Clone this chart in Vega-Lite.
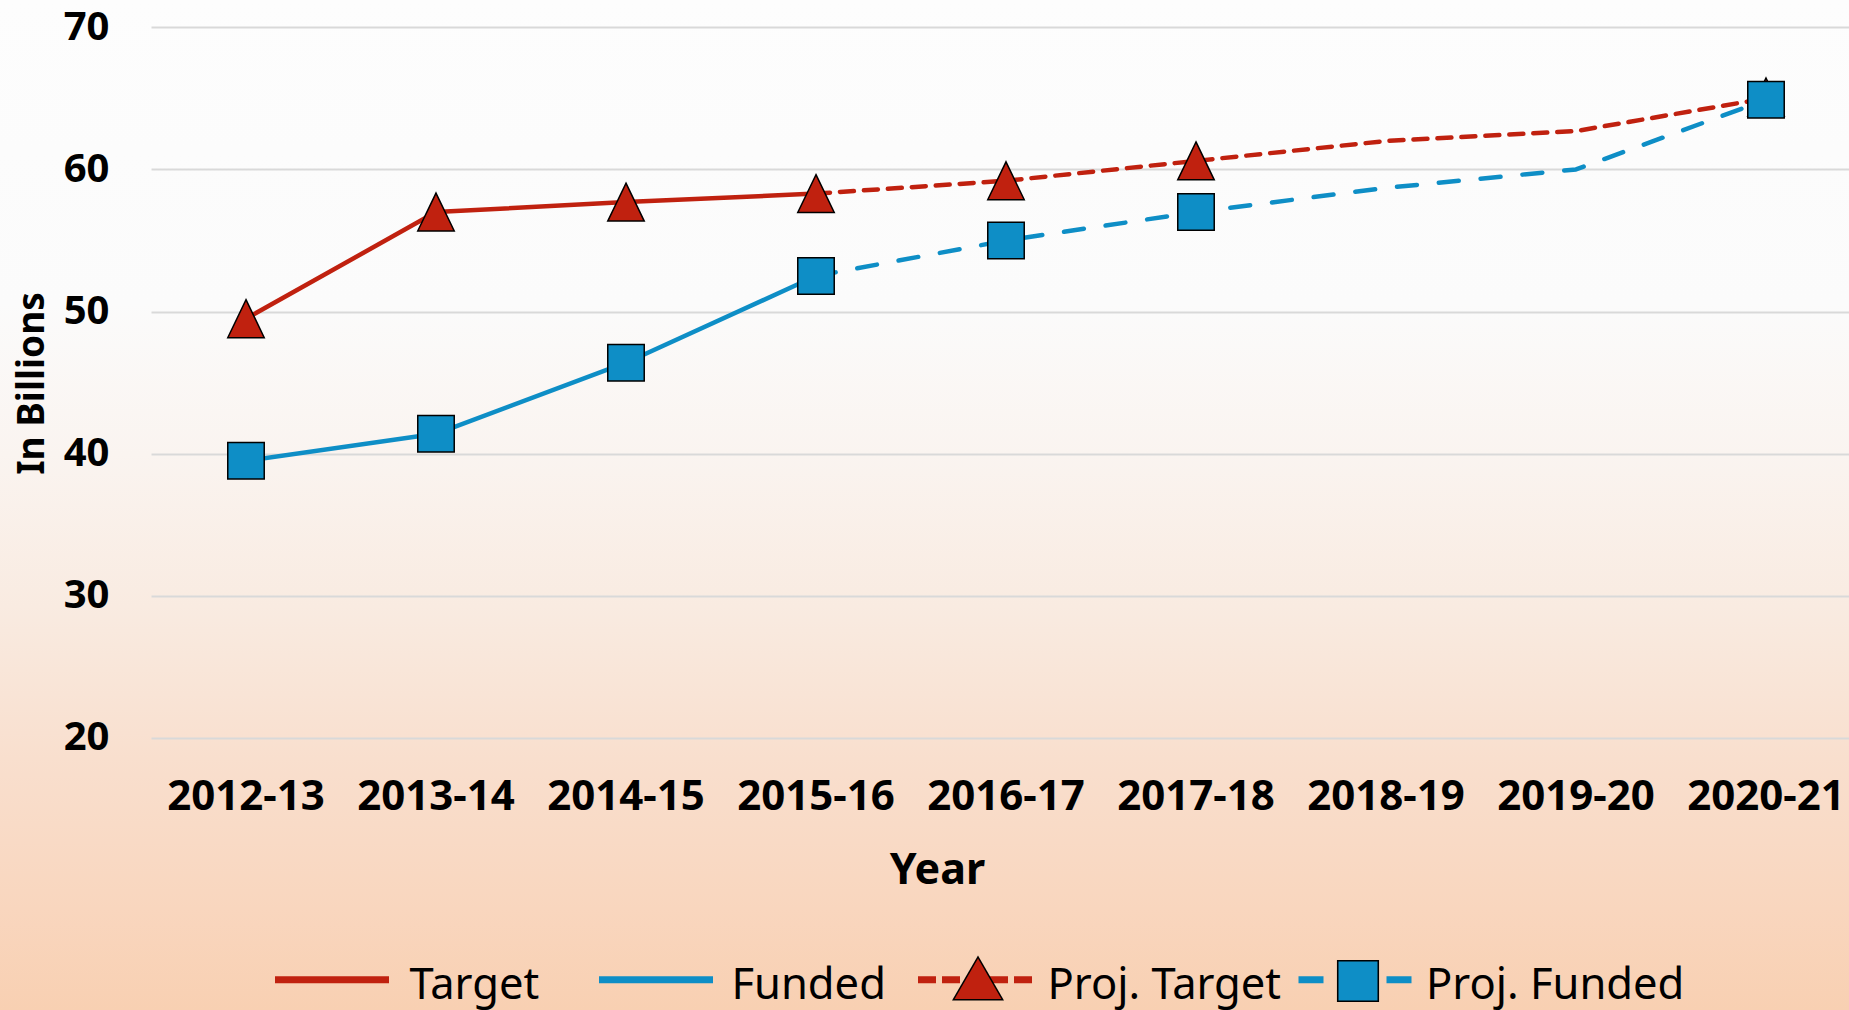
{
  "$schema": "https://vega.github.io/schema/vega-lite/v6.json",
  "width": 1849,
  "height": 1010,
  "autosize": {"type": "none"},
  "padding": 0,
  "view": {
    "stroke": null,
    "fill": {
      "gradient": "linear", "x1": 0, "y1": 0, "x2": 0, "y2": 1,
      "stops": [
        {"offset": 0, "color": "#FDFDFD"},
        {"offset": 0.3, "color": "#FBFBFB"},
        {"offset": 0.45, "color": "#FAF4F0"},
        {"offset": 0.6, "color": "#F9EBE1"},
        {"offset": 0.75, "color": "#F9DFCE"},
        {"offset": 0.9, "color": "#F9D6BE"},
        {"offset": 1, "color": "#F8D0B2"}
      ]
    }
  },
  "config": {"font": "Noto Sans"},
  "resolve": {
    "scale": {"color": "independent", "shape": "independent"},
    "legend": {"color": "independent", "shape": "independent"}
  },
  "datasets": {
    "lines": [
      {"year": "2012-13", "series": "Target", "value": 49.5},
      {"year": "2013-14", "series": "Target", "value": 57.0},
      {"year": "2014-15", "series": "Target", "value": 57.7},
      {"year": "2015-16", "series": "Target", "value": 58.3},
      {"year": "2012-13", "series": "Funded", "value": 39.5},
      {"year": "2013-14", "series": "Funded", "value": 41.4},
      {"year": "2014-15", "series": "Funded", "value": 46.4},
      {"year": "2015-16", "series": "Funded", "value": 52.5},
      {"year": "2015-16", "series": "Proj. Target", "value": 58.3},
      {"year": "2016-17", "series": "Proj. Target", "value": 59.2},
      {"year": "2017-18", "series": "Proj. Target", "value": 60.6},
      {"year": "2018-19", "series": "Proj. Target", "value": 62.0},
      {"year": "2019-20", "series": "Proj. Target", "value": 62.7},
      {"year": "2020-21", "series": "Proj. Target", "value": 65.0},
      {"year": "2015-16", "series": "Proj. Funded", "value": 52.5},
      {"year": "2016-17", "series": "Proj. Funded", "value": 55.0},
      {"year": "2017-18", "series": "Proj. Funded", "value": 57.0},
      {"year": "2018-19", "series": "Proj. Funded", "value": 58.7},
      {"year": "2019-20", "series": "Proj. Funded", "value": 60.0},
      {"year": "2020-21", "series": "Proj. Funded", "value": 64.9}
    ],
    "markers": [
      {"year": "2012-13", "series": "Target", "value": 49.5},
      {"year": "2013-14", "series": "Target", "value": 57.0},
      {"year": "2014-15", "series": "Target", "value": 57.7},
      {"year": "2015-16", "series": "Target", "value": 58.3},
      {"year": "2016-17", "series": "Target", "value": 59.2},
      {"year": "2017-18", "series": "Target", "value": 60.6},
      {"year": "2020-21", "series": "Target", "value": 65.1},
      {"year": "2012-13", "series": "Funded", "value": 39.5},
      {"year": "2013-14", "series": "Funded", "value": 41.4},
      {"year": "2014-15", "series": "Funded", "value": 46.4},
      {"year": "2015-16", "series": "Funded", "value": 52.5},
      {"year": "2016-17", "series": "Funded", "value": 55.0},
      {"year": "2017-18", "series": "Funded", "value": 57.0},
      {"year": "2020-21", "series": "Funded", "value": 64.9}
    ]
  },
  "layer": [
    {
      "data": {"name": "lines"},
      "transform": [{"filter": "datum.series == 'Target'"}],
      "mark": {"type": "line", "strokeWidth": 4.5, "strokeCap": "round", "strokeJoin": "round"},
      "encoding": {
        "x": {
          "field": "year", "type": "nominal",
          "scale": {"type": "band", "domain": ["2012-13","2013-14","2014-15","2015-16","2016-17","2017-18","2018-19","2019-20","2020-21"], "range": [151, 1861], "paddingInner": 0, "paddingOuter": 0},
          "axis": {
            "orient": "bottom", "offset": -272, "domain": false, "ticks": false, "tickSize": 0, "grid": false,
            "labelAngle": 0, "labelFont": "Noto Sans", "labelFontWeight": "bold", "labelFontSize": 42, "labelColor": "#000000", "labelPadding": 38,
            "title": "Year", "titleFont": "Noto Sans", "titleFontWeight": "bold", "titleFontSize": 43, "titleColor": "#000000",
            "titleX": 937, "titleY": 145, "titleBaseline": "alphabetic", "titleAlign": "center"
          }
        },
        "y": {
          "field": "value", "type": "quantitative",
          "scale": {"domain": [0.86, 71.92], "nice": false, "zero": false},
          "axis": {
            "orient": "left", "offset": -151, "values": [20, 30, 40, 50, 60, 70], "domain": false, "ticks": false, "tickSize": 0,
            "grid": true, "gridColor": "#D9D9D9", "gridWidth": 2,
            "labelFont": "Noto Sans", "labelFontWeight": "bold", "labelFontSize": 40, "labelColor": "#000000", "labelPadding": 42,
            "title": "In Billions", "titleFont": "Noto Sans", "titleFontWeight": "bold", "titleFontSize": 37, "titleColor": "#000000",
            "titleX": -108, "titleY": 383, "titleAngle": -90, "titleBaseline": "alphabetic", "titleAlign": "center"
          }
        },
        "color": {
          "field": "series", "type": "nominal",
          "scale": {"domain": ["Target"], "range": ["#C0210F"]},
          "legend": {
            "orient": "none", "legendX": 271.5, "legendY": 925, "title": null, "padding": 0, "zindex": 1,
            "symbolType": "M-1,-0.1L1,-0.1", "symbolSize": 12996, "symbolStrokeWidth": 7, "labelLimit": 600,
            "labelFont": "Noto Sans", "labelFontSize": 43.5, "labelColor": "#000000", "labelOffset": 17
          }
        }
      }
    },
    {
      "data": {"name": "lines"},
      "transform": [{"filter": "datum.series == 'Funded'"}],
      "mark": {"type": "line", "strokeWidth": 4.5, "strokeCap": "round", "strokeJoin": "round"},
      "encoding": {
        "x": {"field": "year", "type": "nominal"},
        "y": {"field": "value", "type": "quantitative"},
        "color": {
          "field": "series", "type": "nominal",
          "scale": {"domain": ["Funded"], "range": ["#0E8EC6"]},
          "legend": {
            "orient": "none", "legendX": 595.5, "legendY": 925, "title": null, "padding": 0, "zindex": 1,
            "symbolType": "M-1,-0.1L1,-0.1", "symbolSize": 12996, "symbolStrokeWidth": 7, "labelLimit": 600,
            "labelFont": "Noto Sans", "labelFontSize": 43.5, "labelColor": "#000000", "labelOffset": 15
          }
        }
      }
    },
    {
      "data": {"name": "lines"},
      "transform": [{"filter": "datum.series == 'Proj. Target'"}],
      "mark": {"type": "line", "strokeWidth": 4.5, "strokeCap": "round", "strokeJoin": "round", "strokeDash": [14, 10]},
      "encoding": {
        "x": {"field": "year", "type": "nominal"},
        "y": {"field": "value", "type": "quantitative"},
        "color": {
          "field": "series", "type": "nominal",
          "scale": {"domain": ["Proj. Target"], "range": ["#C0210F"]},
          "legend": {
            "orient": "none", "legendX": 914.5, "legendY": 925, "title": null, "padding": 0, "zindex": 1,
            "symbolType": "M-1,-0.1L1,-0.1", "symbolSize": 12996, "symbolStrokeWidth": 7, "symbolDash": [18, 6], "labelLimit": 600,
            "labelFont": "Noto Sans", "labelFontSize": 43.5, "labelColor": "#000000", "labelOffset": 12
          }
        }
      }
    },
    {
      "data": {"name": "lines"},
      "transform": [{"filter": "datum.series == 'Proj. Funded'"}],
      "mark": {"type": "line", "strokeWidth": 4.5, "strokeCap": "round", "strokeJoin": "round", "strokeDash": [20, 22]},
      "encoding": {
        "x": {"field": "year", "type": "nominal"},
        "y": {"field": "value", "type": "quantitative"},
        "color": {
          "field": "series", "type": "nominal",
          "scale": {"domain": ["Proj. Funded"], "range": ["#0E8EC6"]},
          "legend": {
            "orient": "none", "legendX": 1295, "legendY": 925, "title": null, "padding": 0, "zindex": 1,
            "symbolType": "M-1,-0.1L1,-0.1", "symbolSize": 12996, "symbolStrokeWidth": 7, "symbolDash": [25, 63], "labelLimit": 600,
            "labelFont": "Noto Sans", "labelFontSize": 43.5, "labelColor": "#000000", "labelOffset": 10
          }
        }
      }
    },
    {
      "data": {"name": "markers"},
      "transform": [{"filter": "datum.series == 'Target'"}],
      "mark": {"type": "point", "shape": "M0,-1.04L1,1.04L-1,1.04Z", "filled": true, "fill": "#C0210F", "stroke": "#000000", "strokeWidth": 1.5, "opacity": 1, "size": 1330},
      "encoding": {
        "x": {"field": "year", "type": "nominal"},
        "y": {"field": "value", "type": "quantitative"}
      }
    },
    {
      "data": {"name": "markers"},
      "transform": [{"filter": "datum.series == 'Funded'"}],
      "mark": {"type": "point", "shape": "square", "filled": true, "fill": "#0E8EC6", "stroke": "#000000", "strokeWidth": 1.5, "opacity": 1, "size": 1330},
      "encoding": {
        "x": {"field": "year", "type": "nominal"},
        "y": {"field": "value", "type": "quantitative"}
      }
    },
    {
      "data": {"name": "markers"},
      "transform": [{"filter": "false"}],
      "mark": {"type": "point", "filled": true, "fill": "#000000", "strokeWidth": 0, "opacity": 1},
      "encoding": {
        "x": {"field": "year", "type": "nominal"},
        "y": {"field": "value", "type": "quantitative"},
        "shape": {
          "field": "series", "type": "nominal",
          "scale": {"domain": ["tri-outline"], "range": ["M0,-0.865L1,0.865L-1,0.865Z"]},
          "legend": {
            "orient": "none", "legendX": 952, "legendY": 952, "title": null, "padding": 0, "zindex": 3,
            "symbolSize": 2704, "symbolStrokeWidth": 0, "symbolOpacity": 1, "labelExpr": "''", "labelFontSize": 10
          }
        }
      }
    },
    {
      "data": {"name": "markers"},
      "transform": [{"filter": "false"}],
      "mark": {"type": "point", "filled": true, "fill": "#C0210F", "strokeWidth": 0, "opacity": 1},
      "encoding": {
        "x": {"field": "year", "type": "nominal"},
        "y": {"field": "value", "type": "quantitative"},
        "shape": {
          "field": "series", "type": "nominal",
          "scale": {"domain": ["tri-fill"], "range": ["M0,-0.75L0.9,0.808L-0.9,0.808Z"]},
          "legend": {
            "orient": "none", "legendX": 952, "legendY": 952, "title": null, "padding": 0, "zindex": 4,
            "symbolSize": 2704, "symbolStrokeWidth": 0, "symbolOpacity": 1, "labelExpr": "''", "labelFontSize": 10
          }
        }
      }
    },
    {
      "data": {"name": "markers"},
      "transform": [{"filter": "false"}],
      "mark": {"type": "point", "filled": true, "fill": "#000000", "strokeWidth": 0, "opacity": 1},
      "encoding": {
        "x": {"field": "year", "type": "nominal"},
        "y": {"field": "value", "type": "quantitative"},
        "shape": {
          "field": "series", "type": "nominal",
          "scale": {"domain": ["sq-outline"], "range": ["M-0.81,-0.81L0.81,-0.81L0.81,0.81L-0.81,0.81Z"]},
          "legend": {
            "orient": "none", "legendX": 1332, "legendY": 955, "title": null, "padding": 0, "zindex": 3,
            "symbolSize": 2704, "symbolStrokeWidth": 0, "symbolOpacity": 1, "labelExpr": "''", "labelFontSize": 10
          }
        }
      }
    },
    {
      "data": {"name": "markers"},
      "transform": [{"filter": "false"}],
      "mark": {"type": "point", "filled": true, "fill": "#0E8EC6", "strokeWidth": 0, "opacity": 1},
      "encoding": {
        "x": {"field": "year", "type": "nominal"},
        "y": {"field": "value", "type": "quantitative"},
        "shape": {
          "field": "series", "type": "nominal",
          "scale": {"domain": ["sq-fill"], "range": ["M-0.75,-0.75L0.75,-0.75L0.75,0.75L-0.75,0.75Z"]},
          "legend": {
            "orient": "none", "legendX": 1332, "legendY": 955, "title": null, "padding": 0, "zindex": 4,
            "symbolSize": 2704, "symbolStrokeWidth": 0, "symbolOpacity": 1, "labelExpr": "''", "labelFontSize": 10
          }
        }
      }
    }
  ]
}
